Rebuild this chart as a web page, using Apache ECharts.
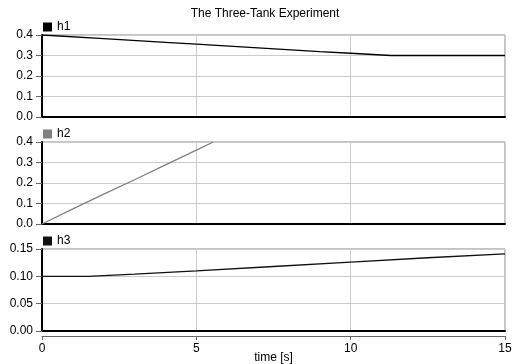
<!DOCTYPE html>
<html>
<head>
<meta charset="utf-8">
<script src="https://cdn.jsdelivr.net/npm/echarts@6/dist/echarts.min.js"></script>
<style>
  html, body { margin: 0; padding: 0; background: #fff; }
  #chart { width: 515px; height: 364px; }
</style>
</head>
<body>
<div id="chart"></div>
<script>
// values: [time, level]
const h1 = [[0, 0.4], [2, 0.382], [4, 0.364], [5, 0.355], [7, 0.337], [9, 0.319], [10, 0.311], [11.3, 0.3], [15, 0.3]];
const h2 = [[0, 0], [1, 0.074], [2, 0.146], [3, 0.216], [4, 0.288], [5, 0.36], [5.55, 0.4]];
const h3 = [[0, 0.1], [1.5, 0.0998], [3, 0.104], [5, 0.11], [7.5, 0.118], [10, 0.126], [12.5, 0.134], [15, 0.141]];
const names = ['h1', 'h2', 'h3'];
const colors = ['#000000', '#808080', '#111111'];

const font = 'Liberation Sans';
const tops = [35, 142, 249];

const grid = tops.map(t => ({
  left: 42, right: 10, top: t, height: 82, outerBoundsMode: 'none',
  show: true, borderColor: '#888', borderWidth: 1, backgroundColor: '#fff'
}));

const xBase = i => ({
  type: 'value', gridIndex: i, min: 0, max: 15, interval: 5,
  axisLine: { show: true, onZero: false, lineStyle: { color: '#000', width: 2 } },
  axisTick: { show: false },
  axisLabel: { show: false },
  splitLine: { show: true, lineStyle: { color: '#ccc', width: 1 } }
});

// time axis sits a little below the last panel
const xAxis = [xBase(0), xBase(1), xBase(2), {
  type: 'value', gridIndex: 2, min: 0, max: 15, interval: 5, offset: 5,
  position: 'bottom',
  axisLine: { show: true, onZero: false, lineStyle: { color: '#666', width: 1 } },
  axisTick: { show: true, length: 4, lineStyle: { color: '#666' } },
  axisLabel: { show: true, color: '#000', fontFamily: font, fontSize: 12, margin: 7 },
  splitLine: { show: false },
  name: 'time [s]', nameLocation: 'middle', nameGap: 16, nameMoveOverlap: false,
  nameTextStyle: { color: '#000', fontFamily: font, fontSize: 12 }
}];

const yBase = (i, max, interval, digits) => ({
  type: 'value', gridIndex: i, min: 0, max: max, interval: interval,
  axisLine: { show: true, lineStyle: { color: '#000', width: 2 } },
  axisTick: { show: true, length: 6, lineStyle: { color: '#666' } },
  axisLabel: { color: '#000', fontFamily: font, fontSize: 12, margin: 9,
    formatter: v => v.toFixed(digits) },
  splitLine: { show: true, lineStyle: { color: '#ccc', width: 1 } }
});

const yAxis = [yBase(0, 0.4, 0.1, 1), yBase(1, 0.4, 0.1, 1), yBase(2, 0.15, 0.05, 2)];

const legend = names.map((n, i) => ({
  data: [n], left: 38, top: tops[i] - 19, icon: 'rect',
  itemWidth: 9, itemHeight: 9, itemGap: 5,
  textStyle: { color: '#000', fontFamily: font, fontSize: 12 }
}));

const data = [h1, h2, h3];
const series = names.map((n, i) => ({
  name: n, type: 'line', xAxisIndex: i, yAxisIndex: i,
  data: data[i], showSymbol: false, symbol: 'none',
  lineStyle: { color: colors[i], width: 1.3 },
  itemStyle: { color: colors[i] },
  clip: true
}));

const chart = echarts.init(document.getElementById('chart'));
chart.setOption({
  animation: false,
  title: {
    text: 'The Three-Tank Experiment', left: 260, top: 3, textAlign: 'center',
    textStyle: { fontFamily: font, fontSize: 12, fontWeight: 'normal', color: '#000' }
  },
  grid, xAxis, yAxis, legend, series
});
</script>
</body>
</html>
